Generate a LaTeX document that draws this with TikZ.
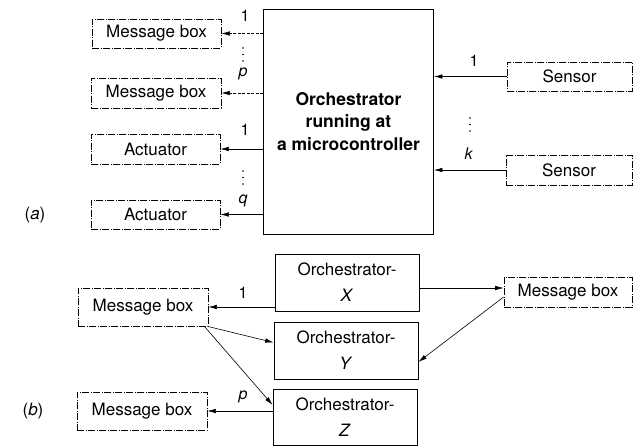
\documentclass[tikz,border=0pt]{standalone}
\usepackage{fontspec}
\setmainfont{TeX Gyre Heros}
\usetikzlibrary{arrows.meta}
\begin{document}
\begin{tikzpicture}[x=1pt,y=-1pt,
  font=\fontsize{17}{22.5}\selectfont,
  pdash/.style={dash pattern=on 7pt off 1.5pt on 1pt off 1.5pt},
  perbox/.style={draw, pdash, line width=0.7pt, inner sep=0pt, minimum width=129pt, minimum height=30pt},
  bigbox/.style={draw, line width=0.8pt, inner sep=0pt, align=center, font=\fontsize{17.5}{22.5}\selectfont\bfseries},
  orchbox/.style={draw, line width=0.8pt, inner sep=0pt, minimum width=144pt, minimum height=57pt, align=center, font=\fontsize{17}{26}\selectfont},
  conn/.style={-{Latex[length=8.5pt,width=4.5pt]}, line width=0.6pt},
  dconn/.style={conn, dash pattern=on 3pt off 1.5pt},
  lbl/.style={font=\fontsize{16}{16}\selectfont, inner sep=0pt},
  tag/.style={font=\fontsize{17}{17}\selectfont, inner sep=0pt}
]
\useasboundingbox (0,0) rectangle (634,446);

% ---------- (a) ----------
\node[perbox, minimum height=29pt] (mb1) at (156.5,33.5) {Message box};
\node[perbox, minimum width=130pt] (mb2) at (156,93) {Message box};
\node[perbox] (ac1) at (155.5,149) {Actuator};
\node[perbox, minimum height=29pt] (ac2) at (155.5,214.5) {Actuator};
\node[bigbox, minimum width=170pt, minimum height=225pt] (orch) at (348.5,121.5)
  {Orchestrator\\running at\\a microcontroller};
\node[perbox, minimum width=125pt, minimum height=29pt] (s1) at (569.5,76.5) {Sensor};
\node[perbox, minimum width=126pt] (s2) at (569,170) {Sensor};

\draw[dconn] (orch.west |- mb1) -- (mb1.east);
\draw[dconn] (orch.west |- mb2) -- (mb2.east);
\draw[conn] (orch.west |- ac1) -- (ac1.east);
\draw[conn] (orch.west |- ac2) -- (ac2.east);
\draw[conn] (s1.west) -- (orch.east |- s1);
\draw[conn] (s2.west) -- (orch.east |- s2);

\node[lbl] (la1) at (245,16) {1};
\node[lbl] (lap) at (243,74) {\textit{p}};
\node[lbl] (la2) at (245,130) {1};
\node[lbl] (laq) at (243,201) {\textit{q}};
\node[lbl] (ls1) at (474,61) {1};
\node[lbl] (lsk) at (469,154) {\textit{k}};

\foreach \yy in {48,54.5,61} \fill (243,\yy) circle (0.9pt);
\foreach \yy in {171,177.5,184} \fill (243,\yy) circle (0.9pt);
\foreach \yy in {118,124.5,131} \fill (470,\yy) circle (0.9pt);

\node[tag] (ta) at (35,215) {(\textit{a})};

% ---------- (b) ----------
\node[orchbox] (ox) at (347,282.5) {Orchestrator-\\\textit{X}};
\node[orchbox] (oy) at (346,350.5) {Orchestrator-\\\textit{Y}};
\node[orchbox, minimum height=56pt] (oz) at (345,417) {Orchestrator-\\\textit{Z}};

\node[perbox, minimum width=130pt, minimum height=38pt] (mbl1) at (143,307) {Message box};
\node[perbox, minimum width=130pt, minimum height=38pt] (mbl2) at (142,411) {Message box};
\node[perbox, minimum width=128pt] (mbr) at (568,292) {Message box};

\draw[conn] (ox.west |- mbl1) -- (mbl1.east);
\draw[conn] ([xshift=-1pt]mbl1.south east) -- ([yshift=8pt]oy.west);
\draw[conn] ([xshift=-4pt]mbl1.south east) -- ([yshift=12pt]oz.west);
\draw[conn] (oz.west |- mbl2) -- (mbl2.east);
\coordinate (mbrin) at ([yshift=4pt]mbr.west);
\draw[conn] (ox.east |- mbrin) -- (mbrin);
\draw[conn] ([yshift=-5pt]mbr.west) -- ([yshift=-11.5pt]oy.east);

\node[lbl] (lb1) at (243,293) {1};
\node[lbl] (lbp) at (243,397) {\textit{p}};

\node[tag] (tb) at (33,411) {(\textit{b})};
\end{tikzpicture}
\end{document}
